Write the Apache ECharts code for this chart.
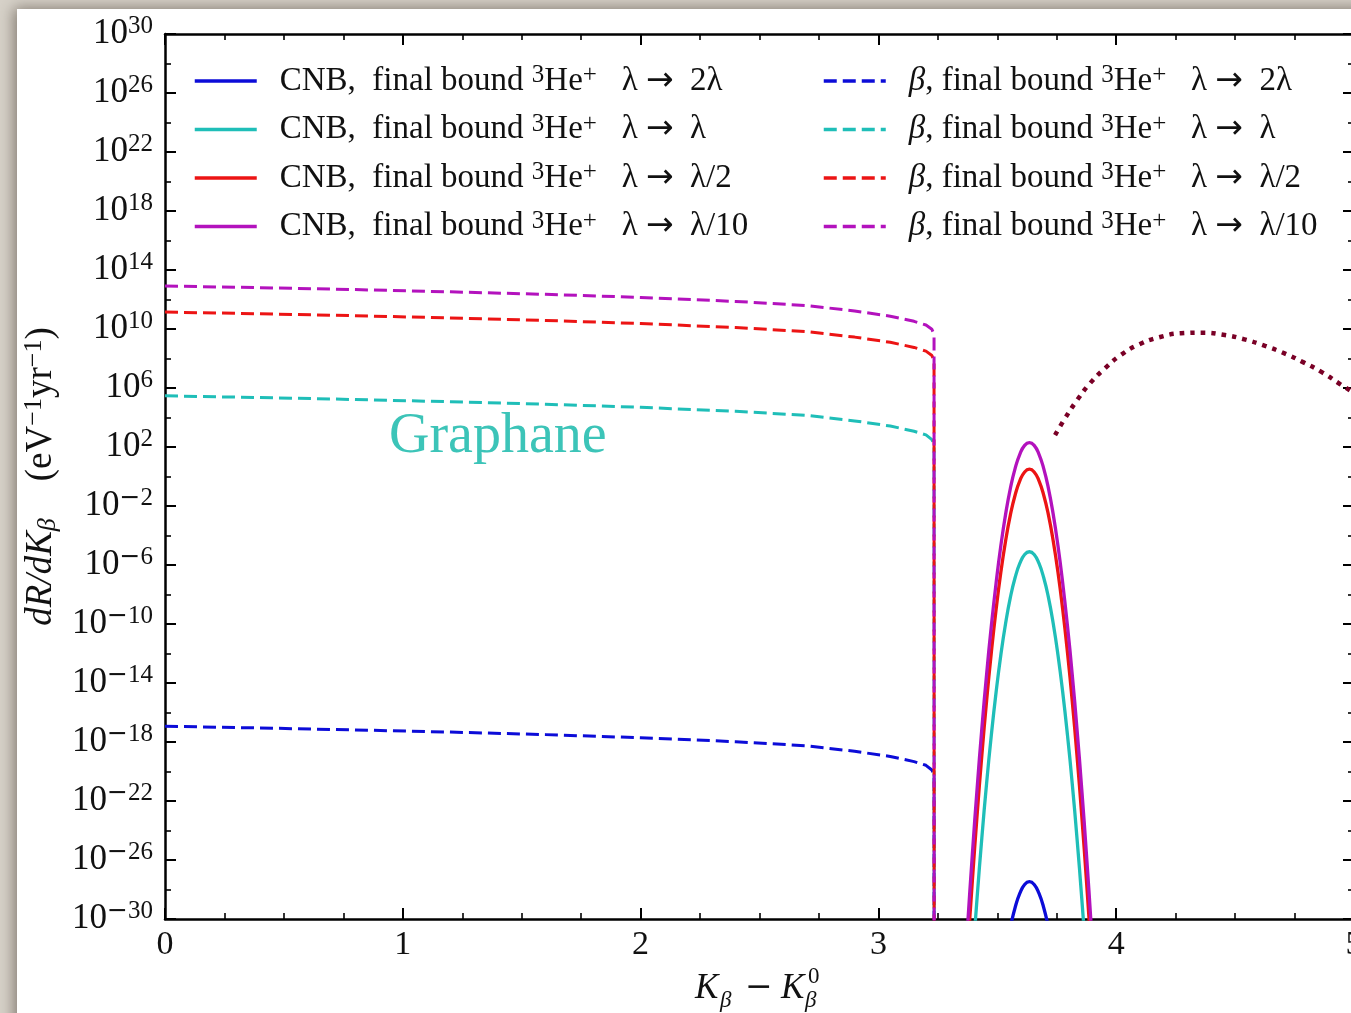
<!DOCTYPE html>
<html>
<head>
<meta charset="utf-8">
<script src="https://cdn.jsdelivr.net/npm/echarts@6/dist/echarts.min.js"></script>
<style>
  html, body { margin: 0; padding: 0; background: #d7d2c9; }
  #chart { width: 1351px; height: 1013px; }
</style>
</head>
<body>
<div id="chart"></div>
<script>
// Kinetic energy above the beta endpoint reference, K_beta - K_beta^0 (eV)
const betaK = [0, 0.4, 0.8, 1.2, 1.6, 2.0, 2.4, 2.7, 2.9, 3.05, 3.15, 3.2, 3.225, 3.234, 3.2345];
// log10 of dR/dK for the beta background, final bound 3He+ (one array per lambda rescaling)
const betaLog2L    = [-16.93, -17.05, -17.18, -17.33, -17.50, -17.71, -17.98, -18.26, -18.63, -18.98, -19.33, -19.58, -19.90, -20.25, -40];
const betaLogL     = [5.47, 5.35, 5.22, 5.07, 4.90, 4.69, 4.42, 4.14, 3.77, 3.42, 3.07, 2.82, 2.50, 2.15, -40];
const betaLogHalf  = [11.15, 11.03, 10.90, 10.75, 10.58, 10.37, 10.10, 9.82, 9.45, 9.10, 8.75, 8.50, 8.20, 7.85, -40];
const betaLogTenth = [12.92, 12.80, 12.67, 12.52, 12.35, 12.14, 11.87, 11.59, 11.22, 10.87, 10.52, 10.27, 9.98, 9.62, -40];

// CNB capture peak energies (eV)
const cnbK = [3.355, 3.375, 3.395, 3.415, 3.435, 3.455, 3.475, 3.495, 3.515, 3.535, 3.555, 3.575, 3.595, 3.615, 3.635,
              3.655, 3.675, 3.695, 3.715, 3.735, 3.755, 3.775, 3.795, 3.815, 3.835, 3.855, 3.875, 3.895, 3.915];
// log10 of dR/dK for the CNB signal
const cnbLog2L = [null, null, null, null, null, null, null, null, -34.45, -32.32, -30.57, -29.22, -28.25, -27.66, -27.47,
                  -27.66, -28.25, -29.22, -30.57, -32.32, -34.45, null, null, null, null, null, null, null, null];
const cnbLogL = [-43.12, -37.89, -33.04, -28.57, -24.50, -20.81, -17.52, -14.61, -12.08, -9.95, -8.20, -6.85, -5.88, -5.29, -5.10,
                 -5.29, -5.88, -6.85, -8.20, -9.95, -12.08, -14.61, -17.52, -20.81, -24.50, -28.57, -33.04, -37.89, -43.12];
const cnbLogHalf = [-37.52, -32.29, -27.44, -22.97, -18.90, -15.21, -11.92, -9.01, -6.48, -4.35, -2.60, -1.25, -0.28, 0.31, 0.50,
                    0.31, -0.28, -1.25, -2.60, -4.35, -6.48, -9.01, -11.92, -15.21, -18.90, -22.97, -27.44, -32.29, -37.52];
const cnbLogTenth = [-35.72, -30.49, -25.64, -21.17, -17.10, -13.41, -10.12, -7.21, -4.68, -2.55, -0.80, 0.55, 1.52, 2.11, 2.30,
                     2.11, 1.52, 0.55, -0.80, -2.55, -4.68, -7.21, -10.12, -13.41, -17.10, -21.17, -25.64, -30.49, -35.72];

// Dotted reference spectrum
const refK   = [3.743, 3.785, 3.836, 3.890, 3.953, 4.020, 4.097, 4.181, 4.273, 4.362, 4.450, 4.539, 4.626, 4.710, 4.790, 4.868, 4.941, 5.0];
const refLog = [2.81, 3.95, 5.19, 6.32, 7.34, 8.24, 8.96, 9.44, 9.71, 9.75, 9.61, 9.30, 8.85, 8.33, 7.72, 7.04, 6.27, 5.66];

// Lambda rescalings and decade ticks
const lambdaMaps = ['2λ', 'λ', 'λ/2', 'λ/10'];
const yMajorExp = [-30, -26, -22, -18, -14, -10, -6, -2, 2, 6, 10, 14, 18, 22, 26, 30];
const yMinorExp = [-28, -24, -20, -16, -12, -8, -4, 0, 4, 8, 12, 16, 20, 24, 28];

const SERIF = "'Liberation Serif', 'DejaVu Serif', serif";
const SANS = "'DejaVu Sans', sans-serif";
const INK = '#111111';
const colors = ['#0c0cd8', '#1fbeb8', '#ec1414', '#b312bd'];
const refColor = '#7a0026';

const cnbNames = lambdaMaps.map(m => 'CNB, final bound ³He⁺ λ → ' + m);
const betaNames = lambdaMaps.map(m => 'β, final bound ³He⁺ λ → ' + m);

const pairs = (xs, ys) => xs.map((x, i) => [x, ys[i]]);

const cnbSets = [cnbLog2L, cnbLogL, cnbLogHalf, cnbLogTenth];
const betaSets = [betaLog2L, betaLogL, betaLogHalf, betaLogTenth];

const series = [];
cnbSets.forEach((vals, i) => {
  series.push({
    name: cnbNames[i], type: 'line', xAxisIndex: 0, yAxisIndex: 0,
    data: pairs(cnbK, vals), smooth: true, symbol: 'none', showSymbol: false,
    color: colors[i], lineStyle: { color: colors[i], width: 3.3 }, z: 3
  });
});
betaSets.forEach((vals, i) => {
  series.push({
    name: betaNames[i], type: 'line', xAxisIndex: 0, yAxisIndex: 0,
    data: pairs(betaK, vals), smooth: false, symbol: 'none', showSymbol: false,
    color: colors[i], lineStyle: { color: colors[i], width: 3, type: [13, 6] }, z: 4
  });
});
series.push({
  name: 'reference', type: 'line', xAxisIndex: 0, yAxisIndex: 0,
  data: pairs(refK, refLog), smooth: true, symbol: 'none', showSymbol: false,
  color: refColor, lineStyle: { color: refColor, width: 4.5, type: [4.5, 6] }, z: 3
});

const legendRich = {
  r:   { fontFamily: SERIF, fontSize: 33, color: INK, lineHeight: 36 },
  it:  { fontFamily: SERIF, fontSize: 33, fontStyle: 'italic', color: INK, lineHeight: 36 },
  sup: { fontFamily: SERIF, fontSize: 25, color: INK, lineHeight: 20, verticalAlign: 'top' },
  ar:  { fontFamily: SANS, fontSize: 33, color: INK, lineHeight: 36 },
  g:   { width: 18, lineHeight: 36 }
};
const legendFormatter = name => {
  const tail = name.split('→ ')[1];
  const head = name.startsWith('CNB') ? '{r|CNB,  final bound }' : '{it|β}{r|, final bound }';
  return '{g| }' + head + '{sup|3}{r|He}{sup|+}{r|   λ }{ar|→}{r|  ' + tail + '}';
};
const legendBase = {
  orient: 'vertical', top: 58, itemWidth: 62, itemHeight: 14, itemGap: 14,
  formatter: legendFormatter, textStyle: { rich: legendRich, color: INK },
  itemStyle: { opacity: 0 }, lineStyle: { width: 3.5 }, selectedMode: false
};

const tickRich = {
  b: { fontFamily: SERIF, fontSize: 35, color: INK, lineHeight: 40 },
  s: { fontFamily: SERIF, fontSize: 25, color: INK, lineHeight: 24, verticalAlign: 'top' },
  m: { fontFamily: SANS, fontSize: 25, color: INK, lineHeight: 24, verticalAlign: 'top' }
};
const expLabel = v => '{b|10}' + (v < 0 ? '{m|−}{s|' + (-v) + '}' : '{s|' + v + '}');

const axisLine = { show: true, onZero: false, lineStyle: { color: '#000', width: 2.5 } };
const plotRect = { left: 165, top: 34, width: 1189, height: 885, show: false, containLabel: false, outerBoundsMode: 'none' };

const xCommon = {
  type: 'value', min: 0, max: 5, interval: 1, axisLine,
  axisTick: { inside: true, length: 11, lineStyle: { color: '#000', width: 2 } },
  minorTick: { show: true, splitNumber: 4, length: 6, lineStyle: { color: '#000', width: 1.6 } },
  splitLine: { show: false }, minorSplitLine: { show: false }
};
const yCommon = { type: 'value', min: -30, max: 30, axisLine, splitLine: { show: false } };
const axisTitleFont = { fontFamily: SERIF, fontSize: 35, fill: INK, verticalAlign: 'middle' };

const option = {
  backgroundColor: '#d7d2c9',
  animation: false,
  grid: [plotRect, Object.assign({}, plotRect)],
  xAxis: [
    Object.assign({}, xCommon, {
      gridIndex: 0, position: 'bottom',
      axisLabel: { margin: 9, fontFamily: SERIF, fontSize: 34, color: INK }
    }),
    Object.assign({}, xCommon, { gridIndex: 0, position: 'top', axisLabel: { show: false } }),
    { gridIndex: 1, type: 'value', min: 0, max: 5, show: false }
  ],
  yAxis: [
    Object.assign({}, yCommon, {
      gridIndex: 0, position: 'left',
      axisTick: { inside: true, length: 11, customValues: yMajorExp, lineStyle: { color: '#000', width: 2 } },
      axisLabel: { customValues: yMajorExp, margin: 12, formatter: expLabel, rich: tickRich },
      name: '{it|dR/dK}{sub|β}{r|    (eV}{sup|−1}{r|yr}{sup|−1}{r|)}',
      nameLocation: 'middle', nameRotate: 90, nameGap: 102,
      nameTextStyle: {
        rich: {
          r:   { fontFamily: SERIF, fontSize: 37, color: INK, lineHeight: 40 },
          it:  { fontFamily: SERIF, fontSize: 37, fontStyle: 'italic', color: INK, lineHeight: 40 },
          sub: { fontFamily: SERIF, fontSize: 26, fontStyle: 'italic', color: INK, lineHeight: 22, verticalAlign: 'bottom' },
          sup: { fontFamily: SERIF, fontSize: 26, color: INK, lineHeight: 22, verticalAlign: 'top' }
        }
      }
    }),
    Object.assign({}, yCommon, {
      gridIndex: 0, position: 'right',
      axisTick: { inside: true, length: 11, customValues: yMajorExp, lineStyle: { color: '#000', width: 2 } },
      axisLabel: { show: false }
    }),
    Object.assign({}, yCommon, {
      gridIndex: 1, position: 'left', axisLine: { show: false },
      axisTick: { inside: true, length: 6, customValues: yMinorExp, lineStyle: { color: '#000', width: 1.6 } },
      axisLabel: { show: false }
    }),
    Object.assign({}, yCommon, {
      gridIndex: 1, position: 'right', axisLine: { show: false },
      axisTick: { inside: true, length: 6, customValues: yMinorExp, lineStyle: { color: '#000', width: 1.6 } },
      axisLabel: { show: false }
    })
  ],
  legend: [
    Object.assign({}, legendBase, { left: 188, data: cnbNames }),
    Object.assign({}, legendBase, { left: 817, data: betaNames })
  ],
  graphic: [
    {
      type: 'rect', z: -10, silent: true,
      shape: { x: 17, y: 9, width: 1400, height: 1100 },
      style: { fill: '#ffffff', shadowBlur: 14, shadowOffsetX: -3, shadowOffsetY: -1, shadowColor: 'rgba(60,50,40,0.55)' }
    },
    {
      type: 'text', x: 389, y: 437, silent: true,
      style: { text: 'Graphane', fontFamily: SERIF, fontSize: 56, fill: '#3cc4b8', verticalAlign: 'middle' }
    },
    {
      type: 'group', silent: true,
      children: [
        { type: 'text', x: 695, y: 989, style: Object.assign({ text: 'K', fontStyle: 'italic' }, axisTitleFont) },
        { type: 'text', x: 720, y: 1001, style: Object.assign({}, axisTitleFont, { text: 'β', fontStyle: 'italic', fontSize: 23 }) },
        { type: 'text', x: 745, y: 988, style: Object.assign({}, axisTitleFont, { text: '−', fontFamily: "'DejaVu Serif', serif", fontSize: 33 }) },
        { type: 'text', x: 781, y: 989, style: Object.assign({ text: 'K', fontStyle: 'italic' }, axisTitleFont) },
        { type: 'text', x: 808, y: 977, style: Object.assign({}, axisTitleFont, { text: '0', fontSize: 23 }) },
        { type: 'text', x: 805, y: 1001, style: Object.assign({}, axisTitleFont, { text: 'β', fontStyle: 'italic', fontSize: 23 }) }
      ]
    }
  ],
  series
};

const chart = echarts.init(document.getElementById('chart'), null, { renderer: 'canvas' });
chart.setOption(option);
</script>
</body>
</html>
